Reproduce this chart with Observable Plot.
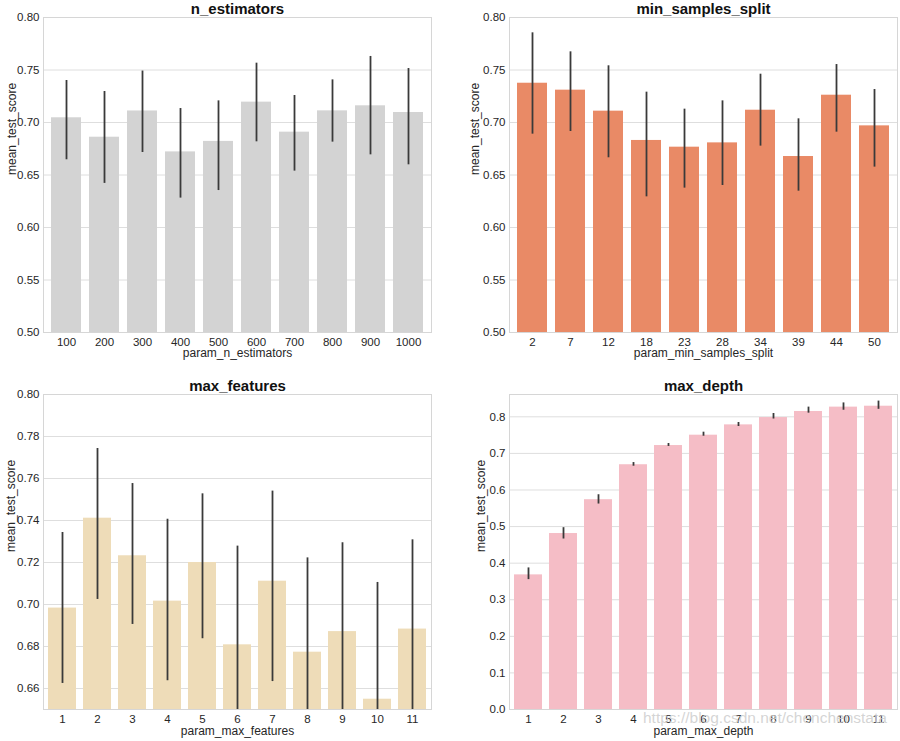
<!DOCTYPE html>
<html>
<head>
<meta charset="utf-8">
<script src="https://cdn.jsdelivr.net/npm/d3@7"></script>
<script src="https://cdn.jsdelivr.net/npm/@observablehq/plot@0.6"></script>
<style>
  html, body { margin: 0; padding: 0; background: #fff; }
  #wrap { position: relative; width: 900px; height: 741px; overflow: hidden; background: #fff; font-family: "Liberation Sans", Arial, sans-serif; }
  .panel { position: absolute; }
  #wm { position: absolute; left: 643px; top: 709px; font-size: 15.5px; color: rgba(205,205,205,0.85); white-space: nowrap; pointer-events: none; }
</style>
</head>
<body>
<div id="wrap">
  <div class="panel" id="p1" style="left:0;top:0"></div>
  <div class="panel" id="p2" style="left:450px;top:0"></div>
  <div class="panel" id="p3" style="left:0;top:370px"></div>
  <div class="panel" id="p4" style="left:450px;top:370px"></div>
  <div id="wm">https://blog.csdn.net/chenchenstata</div>
</div>
<script>
// ---- n_estimators ----
const nEstCats = ["100","200","300","400","500","600","700","800","900","1000"];
const nEstMean = [0.7045,0.686,0.711,0.672,0.682,0.7194,0.6908,0.7111,0.7159,0.7095];
const nEstLo   = [0.6645,0.642,0.6714,0.628,0.6352,0.6816,0.6537,0.6813,0.6692,0.6597];
const nEstHi   = [0.740,0.7295,0.749,0.7133,0.7206,0.7565,0.7257,0.7406,0.7629,0.7514];

// ---- min_samples_split ----
const mssCats = ["2","7","12","18","23","28","34","39","44","50"];
const mssMean = [0.7374,0.7308,0.7108,0.6829,0.6765,0.6806,0.7117,0.6676,0.726,0.6968];
const mssLo   = [0.6889,0.6914,0.6664,0.6292,0.6375,0.640,0.6775,0.6346,0.6908,0.6575];
const mssHi   = [0.7854,0.7673,0.754,0.7289,0.7127,0.7206,0.746,0.7035,0.7552,0.7314];

// ---- max_features ----
const mfCats = ["1","2","3","4","5","6","7","8","9","10","11"];
const mfMean = [0.6983,0.7411,0.7232,0.7016,0.720,0.6808,0.7111,0.6773,0.6871,0.6549,0.6883];
const mfLo   = [0.6624,0.7024,0.6905,0.6637,0.6837,0.634,0.6633,0.632,0.645,0.600,0.646];
const mfHi   = [0.7343,0.7743,0.7576,0.7406,0.7527,0.7278,0.754,0.7222,0.7294,0.7105,0.7308];

// ---- max_depth ----
const mdCats = ["1","2","3","4","5","6","7","8","9","10","11"];
const mdMean = [0.368,0.481,0.5735,0.669,0.7215,0.7498,0.778,0.798,0.8146,0.8265,0.829];
const mdLo   = [0.355,0.466,0.5616,0.665,0.719,0.747,0.7735,0.794,0.810,0.818,0.8205];
const mdHi   = [0.387,0.497,0.587,0.675,0.727,0.758,0.7845,0.809,0.8265,0.838,0.843];

// ---- axis settings ----
const ticksA = [0.50,0.55,0.60,0.65,0.70,0.75,0.80];
const ticksB = [0.66,0.68,0.70,0.72,0.74,0.76,0.78,0.80];
const ticksC = [0.0,0.1,0.2,0.3,0.4,0.5,0.6,0.7,0.8];

const colors = { gray: "#d3d3d3", orange: "#e98a66", wheat: "#eedcb8", pink: "#f5bdc6" };

function rows(cats, mean, lo, hi) {
  return cats.map((c, i) => ({cat: c, mean: mean[i], lo: lo[i], hi: hi[i]}));
}

function panel(opts) {
  const data = rows(opts.cats, opts.mean, opts.lo, opts.hi);
  const m = opts.margins;
  return Plot.plot({
    width: 450,
    height: opts.height,
    marginLeft: m[0], marginRight: m[1], marginTop: m[2], marginBottom: m[3],
    style: { fontFamily: "'Liberation Sans', Arial, sans-serif", fontSize: "11.5px", color: "#262626", background: "transparent", overflow: "visible" },
    x: { domain: opts.cats, paddingInner: 0.2, paddingOuter: 0.1, axis: null },
    y: { domain: opts.domain, axis: null },
    marks: [
      Plot.gridY(opts.ticks, { stroke: "#dedede", strokeOpacity: 1, strokeWidth: 1 }),
      Plot.barY(data, { x: "cat", y: "mean", fill: opts.color, clip: true }),
      Plot.ruleX(data, { x: "cat", y1: "lo", y2: "hi", stroke: "#3a3a3a", strokeWidth: 1.8, clip: true }),
      Plot.frame({ stroke: "#d6d6d6" }),
      Plot.axisX({ tickSize: 0, tickPadding: 5, label: null, fontSize: 11.5 }),
      Plot.axisY(opts.ticks, { tickSize: 0, tickPadding: 4, label: null, tickFormat: opts.fmt, fontSize: 11.5 }),
      Plot.text([opts.title], { frameAnchor: "top", dy: opts.titleDy, lineAnchor: "middle", fontWeight: "bold", fontSize: 15, fill: "#111" }),
      Plot.text([opts.xlabel], { frameAnchor: "bottom", dy: opts.xlabDy, lineAnchor: "middle", fontSize: 12, fill: "#262626" }),
      Plot.text(["mean_test_score"], { frameAnchor: "left", dx: opts.ylabDx, rotate: -90, lineAnchor: "middle", fontSize: 12, fill: "#262626" })
    ]
  });
}

document.getElementById("p1").appendChild(panel({
  cats: nEstCats, mean: nEstMean, lo: nEstLo, hi: nEstHi, color: colors.gray,
  height: 370, margins: [43, 19, 17, 38], domain: [0.5, 0.8], ticks: ticksA, fmt: d3.format(".2f"),
  title: "n_estimators", titleDy: -8, xlabel: "param_n_estimators", xlabDy: 21, ylabDx: -31
}));

document.getElementById("p2").appendChild(panel({
  cats: mssCats, mean: mssMean, lo: mssLo, hi: mssHi, color: colors.orange,
  height: 370, margins: [59, 3, 17, 38], domain: [0.5, 0.8], ticks: ticksA, fmt: d3.format(".2f"),
  title: "min_samples_split", titleDy: -8, xlabel: "param_min_samples_split", xlabDy: 21, ylabDx: -34
}));

document.getElementById("p3").appendChild(panel({
  cats: mfCats, mean: mfMean, lo: mfLo, hi: mfHi, color: colors.wheat,
  height: 371, margins: [43, 19, 24, 32], domain: [0.65, 0.8], ticks: ticksB, fmt: d3.format(".2f"),
  title: "max_features", titleDy: -8.5, xlabel: "param_max_features", xlabDy: 22, ylabDx: -32.5
}));

document.getElementById("p4").appendChild(panel({
  cats: mdCats, mean: mdMean, lo: mdLo, hi: mdHi, color: colors.pink,
  height: 371, margins: [59, 3, 24, 32], domain: [0, 0.861], ticks: ticksC, fmt: d3.format(".1f"),
  title: "max_depth", titleDy: -8.5, xlabel: "param_max_depth", xlabDy: 22, ylabDx: -28
}));
</script>
</body>
</html>
